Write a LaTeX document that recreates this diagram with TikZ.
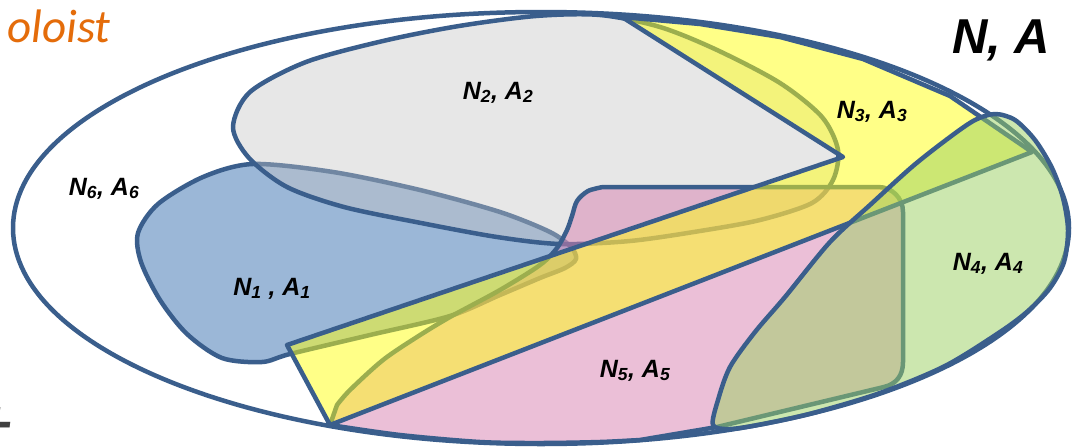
\documentclass[tikz,border=0pt]{standalone}
\usepackage{fontspec}
\setmainfont{Liberation Sans}
\newfontfamily\carlito{Carlito}
\definecolor{edge}{RGB}{58,94,140}
\definecolor{nblue}{RGB}{155,183,215}
\definecolor{ngray}{RGB}{195,195,195}
\definecolor{npink}{RGB}{217,129,177}
\definecolor{nyellow}{RGB}{255,255,17}
\definecolor{ngreen}{RGB}{155,209,97}
\definecolor{orangetxt}{RGB}{228,108,10}
\definecolor{greytxt}{RGB}{64,64,64}
\begin{document}
\begin{tikzpicture}[x=1pt,y=-1pt,
  region/.style={draw=edge, line width=4.5pt, line join=round},
  lbl/.style={font=\fontsize{25}{30}\selectfont\bfseries\itshape, inner sep=0pt, anchor=base},
]
\useasboundingbox (0,0) rectangle (1076,447);
\fill[white] (0,0) rectangle (1076,447);
% N6 outer
\path[region, fill=white] (541,228) ellipse [x radius=528, y radius=216];
% N1 blue
\path[region, fill=nblue] plot[smooth cycle] coordinates {(253,164) (333,172) (420,190) (500,212) (550,232) (571,247) (576,259) (565,268) (540,278) (500,295) (450,316) (370,335) (290,354) (262,362) (222,358) (187,334) (160,300) (141,262) (138,233) (158,204) (203,177)};
% N2 gray
\path[region, fill=ngray, fill opacity=0.4] plot[smooth cycle] coordinates {(233,127) (250,92) (306,62) (383,41) (459,26) (536,16) (600,15) (660,27) (717,50) (780,83) (822,117) (838,150) (833,180) (812,203) (760,220) (700,231) (630,241) (560,244) (497,237) (421,223) (344,207) (287,187) (249,158)};
% N5 pink
\path[region, fill=npink, fill opacity=0.5] (605,187) -- (878,187) .. controls (892,187) and (903,198) .. (903,212) -- (903,362) .. controls (903,376) and (896,384) .. (884,387) -- (717,427) -- plot[smooth] coordinates {(640,440) (600,442) (541,443) (480,442) (400,435) (330,425)} -- plot[smooth] coordinates {(337,405) (350,390) (383,360) (417,337) (450,317) (500,290) (540,265) (557,248) (567,230) (572,216) (577,201) (588,191) (603,187)} -- cycle;
% N3 yellow
\path[region, fill=nyellow, fill opacity=0.5] (622,17) -- (700,24) -- (780,37) -- (863,59) -- (950,96) -- (1032,152) -- (330,425) -- (287,345) -- (843,157) -- cycle;
% N4 green
\path[region, fill=ngreen, fill opacity=0.5] plot[smooth cycle] coordinates {(713,425) (718,400) (730,367) (755,332) (785,297) (830,242) (870,205) (913,166) (950,137) (975,120) (995,114) (1015,120) (1035,140) (1052,168) (1063,198) (1068,230) (1064,262) (1050,288) (1028,311) (1000,332) (945,366) (880,393) (813,413) (763,424) (730,429)};
% labels
\node[lbl] (l6) at (104,195) {N\textsubscript{6}, A\textsubscript{6}};
\node[lbl] (l1) at (272,295) {N\textsubscript{1} , A\textsubscript{1}};
\node[lbl] (l2) at (498,99) {N\textsubscript{2}, A\textsubscript{2}};
\node[lbl] (l3) at (872,118) {N\textsubscript{3}, A\textsubscript{3}};
\node[lbl] (l4) at (988,270) {N\textsubscript{4}, A\textsubscript{4}};
\node[lbl] (l5) at (635,377) {N\textsubscript{5}, A\textsubscript{5}};
\node[font=\fontsize{49}{58}\selectfont\bfseries\itshape, inner sep=0pt, anchor=base] (lna) at (1001,53) {N, A};
\node[font=\carlito\itshape\fontsize{47}{56}\selectfont, text=orangetxt, inner sep=0pt, anchor=base east] (ttl) at (111,42) {oloist};
\node[font=\carlito\itshape\fontsize{90}{100}\selectfont, text=greytxt, inner sep=0pt, anchor=base east] (tt) at (11,464) {t};
\end{tikzpicture}
\end{document}
